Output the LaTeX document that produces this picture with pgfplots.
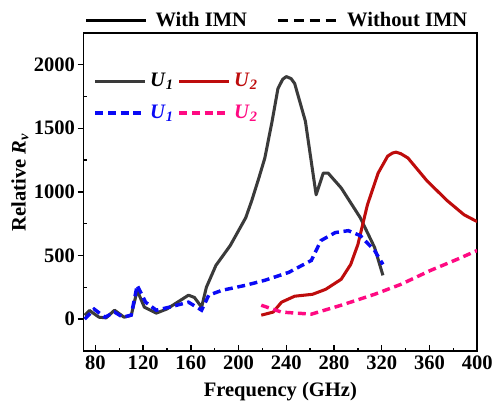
\documentclass[border=0pt]{standalone}
\usepackage{fontspec}
\setmainfont{Liberation Serif}
\usepackage{pgfplots}
\pgfplotsset{compat=1.18}
\usetikzlibrary{calc}

\definecolor{cGray}{RGB}{58,58,58}
\definecolor{cRed}{RGB}{190,12,12}
\definecolor{cBlue}{RGB}{10,10,245}
\definecolor{cPink}{RGB}{255,10,130}

\newcommand{\bigfont}{\fontsize{15.5}{18}\selectfont\bfseries}

\begin{document}
\begin{tikzpicture}[x=1pt,y=1pt]
\begin{axis}[
  name=main,
  scale only axis,
  width=297pt, height=240pt,
  xmin=70, xmax=400,
  ymin=-250, ymax=2250,
  xtick={80,120,...,400},
  minor xtick={100,140,...,380},
  ytick={0,500,...,2000},
  minor ytick={250,750,...,1750},
  xtick pos=bottom, ytick pos=left,
  tick align=inside,
  major tick length=4.5pt,
  minor tick length=2.5pt,
  major y tick style={xshift=-4.5pt},
  tick style={line width=1pt, black},
  axis line style={line width=1.3pt},
  tick label style={font=\bigfont},
  /pgf/number format/assume math mode=true,
  /pgf/number format/1000 sep={},
  xlabel={Frequency (GHz)},
  ylabel={Relative \textit{R}\textsubscript{\textit{v}}},
  xlabel style={font=\bigfont, at={(rel axis cs:0.5,0)}, anchor=center, yshift=-31pt},
  ylabel style={font=\bigfont, at={(rel axis cs:0,0.53)}, anchor=center, yshift=48pt},
  yticklabel style={xshift=-3pt},
  legend columns=2,
  legend cell align=left,
  legend style={draw=none, fill=none, font=\bigfont,
    at={(rel axis cs:0.022,0.886)}, anchor=north west,
    column sep=1pt, row sep=8.5pt, inner sep=1pt},
  legend image code/.code={\draw[#1] (0pt,0pt) -- (37pt,0pt);},
]
% with impedance matching network
\addplot[cGray, line width=2.3pt, line join=round] coordinates {
  (71,30) (75,68) (83,15) (89,10) (96,70) (104,15) (110,30) (115,226)
  (121,94) (131,47) (140,80) (150,140) (158,188) (163,170) (169,94)
  (173,250) (181,422) (193,578) (206,797) (211,930) (217,1109) (222,1266)
  (228,1550) (233,1812) (237,1885) (240,1906) (244,1890) (247,1852)
  (256,1555) (265,977) (271,1148) (275,1148) (286,1031) (302,797)
  (314,563) (321,344)
};
\addlegendentry{\textcolor{black}{\textit{U}\textsubscript{\textit{1}}}}
\addplot[cRed, line width=2.3pt, line join=round] coordinates {
  (219,31) (229,55) (236,133) (247,180) (262,195) (273,234) (286,313)
  (294,430) (300,586) (308,898) (317,1148) (325,1281) (329,1305) (332,1312)
  (336,1300) (342,1266) (358,1086) (375,930) (389,820) (400,766)
};
\addlegendentry{\textcolor{cRed}{\textit{U}\textsubscript{\textit{2}}}}
% without impedance matching network
\addplot[cBlue, line width=2.6pt, dash pattern=on 6pt off 3.5pt] coordinates {
  (71,0) (79,78) (88,15) (96,55) (103,15) (110,31) (115,266) (122,133)
  (131,70) (142,94) (158,133) (169,70) (175,188) (186,226) (206,266)
  (222,305) (242,367) (261,461) (269,617) (281,680) (292,695) (302,656)
  (314,539) (321,430)
};
\addlegendentry{\textcolor{cBlue}{\textit{U}\textsubscript{\textit{1}}}}
\addplot[cPink, line width=2.6pt, dash pattern=on 6pt off 3.5pt] coordinates {
  (219,109) (236,55) (261,39) (286,109) (314,195) (336,273) (361,383)
  (383,469) (400,539)
};
\addlegendentry{\textcolor{cPink}{\textit{U}\textsubscript{\textit{2}}}}
\end{axis}

% line-style key above the frame
\begin{axis}[
  scale only axis,
  width=297pt, height=240pt,
  xmin=0, xmax=1, ymin=0, ymax=1,
  hide axis,
  legend columns=2,
  legend style={draw=none, fill=none, font=\bigfont,
    at={(rel axis cs:0.492,1)}, anchor=south,
    column sep=4pt, inner sep=1pt,
    /tikz/every even column/.append style={column sep=20pt}},
  legend image code/.code={\draw[#1] (0pt,0pt) -- (45pt,0pt);},
]
\addlegendimage{black, line width=2.6pt}
\addlegendentry{With IMN}
\addlegendimage{black, line width=2.6pt, dash pattern=on 7.5pt off 4.5pt}
\addlegendentry{Without IMN}
\end{axis}

\useasboundingbox ($(main.south west)+(-63pt,-36.75pt)$) rectangle ($(main.north east)+(12.75pt,24.75pt)$);
\end{tikzpicture}
\end{document}
